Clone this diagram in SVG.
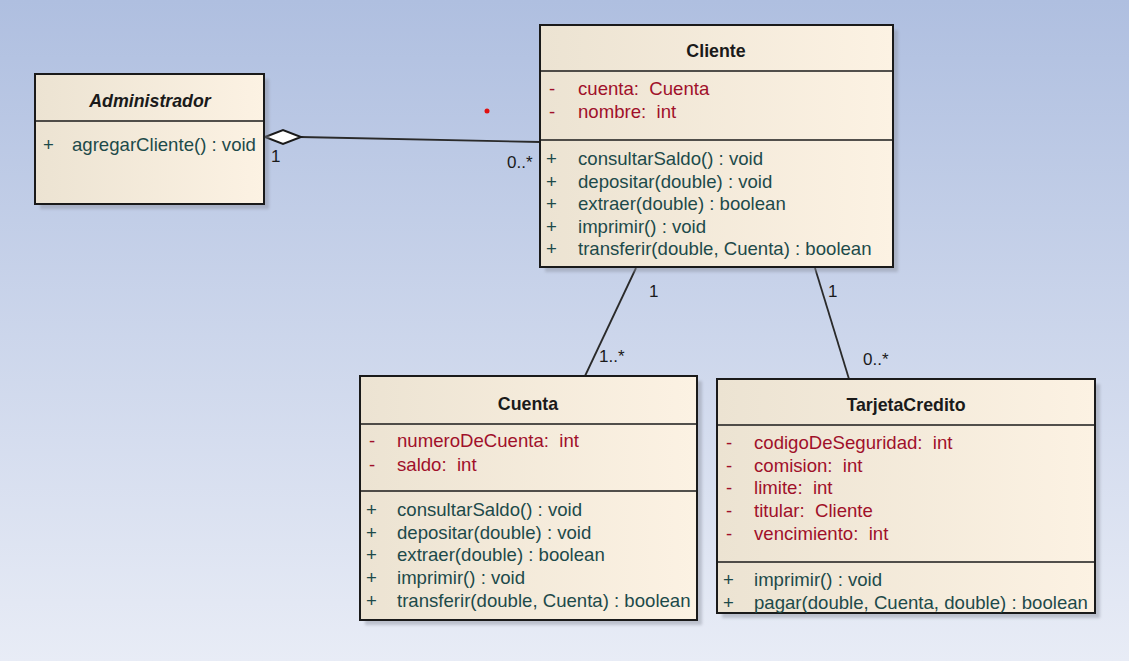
<svg xmlns="http://www.w3.org/2000/svg" width="1129" height="661" viewBox="0 0 1129 661">
<defs>
<linearGradient id="bg" x1="0" y1="0" x2="0" y2="1">
<stop offset="0" stop-color="#afbfe0"/>
<stop offset="1" stop-color="#e8ecf6"/>
</linearGradient>
<linearGradient id="box" x1="0" y1="0" x2="1" y2="0">
<stop offset="0" stop-color="#ece3d2"/>
<stop offset="1" stop-color="#fcf2e3"/>
</linearGradient>
<filter id="sh" x="-10%" y="-10%" width="130%" height="130%">
<feGaussianBlur stdDeviation="1.5"/>
</filter>
</defs>
<style>
.shadow{fill:#8a8f9c;opacity:0.45;filter:url(#sh)}
.frame{fill:url(#box);stroke:#1a1a1a;stroke-width:2}
.sep{stroke:#1a1a1a;stroke-width:1.5}
text{font-family:"Liberation Sans",Arial,sans-serif;font-size:18.6px;white-space:pre}
.title{font-weight:bold;text-anchor:middle;fill:#1a1a1a;font-size:17.8px}
.attr{fill:#a0102a}
.meth{fill:#1d4a4a}
.lbl{fill:#1a1a1a;font-size:17px}
.conn{stroke:#2a2a2a;stroke-width:1.8;fill:none}
</style>
<rect width="1129" height="661" fill="url(#bg)"/>

<g id="connectors">
<line class="conn" x1="300" y1="137" x2="540" y2="142"/>
<polygon points="265,137 283,130 301,137 283,144" fill="#ffffff" stroke="#1a1a1a" stroke-width="2"/>
<line class="conn" x1="636" y1="268" x2="585" y2="376"/>
<line class="conn" x1="815" y1="268" x2="849" y2="379"/>
<text class="lbl" x="271" y="162">1</text>
<text class="lbl" x="507" y="168">0..*</text>
<text class="lbl" x="649" y="297">1</text>
<text class="lbl" x="599" y="362">1..*</text>
<text class="lbl" x="828" y="297">1</text>
<text class="lbl" x="863" y="365">0..*</text>
</g>

<circle cx="487" cy="111" r="2.5" fill="#e01010"/>

<g id="Administrador">
<rect class="shadow" x="40" y="79" width="229" height="130"/>
<rect class="frame" x="35" y="74" width="229" height="130"/>
<line class="sep" x1="35" y1="121" x2="264" y2="121"/>
<text class="title" x="150" y="107" font-style="italic">Administrador</text>
<text class="meth" x="43" y="151">+</text>
<text class="meth" x="72" y="151">agregarCliente() : void</text>
</g>

<g id="Cliente">
<rect class="shadow" x="545" y="30" width="353" height="242"/>
<rect class="frame" x="540" y="25" width="353" height="242"/>
<line class="sep" x1="540" y1="71" x2="893" y2="71"/>
<line class="sep" x1="540" y1="140" x2="893" y2="140"/>
<text class="title" x="716" y="57">Cliente</text>
<text class="attr" x="549" y="95">-</text><text class="attr" x="578" y="95">cuenta:  Cuenta</text>
<text class="attr" x="549" y="118">-</text><text class="attr" x="578" y="118">nombre:  int</text>
<text class="meth" x="546" y="165">+</text><text class="meth" x="578" y="165">consultarSaldo() : void</text>
<text class="meth" x="546" y="188">+</text><text class="meth" x="578" y="188">depositar(double) : void</text>
<text class="meth" x="546" y="210">+</text><text class="meth" x="578" y="210">extraer(double) : boolean</text>
<text class="meth" x="546" y="233">+</text><text class="meth" x="578" y="233">imprimir() : void</text>
<text class="meth" x="546" y="255">+</text><text class="meth" x="578" y="255">transferir(double, Cuenta) : boolean</text>
</g>

<g id="Cuenta">
<rect class="shadow" x="365" y="381" width="337" height="244"/>
<rect class="frame" x="360" y="376" width="337" height="244"/>
<line class="sep" x1="360" y1="424" x2="697" y2="424"/>
<line class="sep" x1="360" y1="491" x2="697" y2="491"/>
<text class="title" x="528" y="410">Cuenta</text>
<text class="attr" x="369" y="447">-</text><text class="attr" x="397" y="447">numeroDeCuenta:  int</text>
<text class="attr" x="369" y="471">-</text><text class="attr" x="397" y="471">saldo:  int</text>
<text class="meth" x="366" y="516">+</text><text class="meth" x="397" y="516">consultarSaldo() : void</text>
<text class="meth" x="366" y="539">+</text><text class="meth" x="397" y="539">depositar(double) : void</text>
<text class="meth" x="366" y="561">+</text><text class="meth" x="397" y="561">extraer(double) : boolean</text>
<text class="meth" x="366" y="584">+</text><text class="meth" x="397" y="584">imprimir() : void</text>
<text class="meth" x="366" y="607">+</text><text class="meth" x="397" y="607">transferir(double, Cuenta) : boolean</text>
</g>

<g id="TarjetaCredito">
<rect class="shadow" x="722" y="384" width="378" height="234"/>
<rect class="frame" x="717" y="379" width="378" height="234"/>
<line class="sep" x1="717" y1="425" x2="1095" y2="425"/>
<line class="sep" x1="717" y1="562" x2="1095" y2="562"/>
<text class="title" x="906" y="411">TarjetaCredito</text>
<text class="attr" x="726" y="449">-</text><text class="attr" x="754" y="449">codigoDeSeguridad:  int</text>
<text class="attr" x="726" y="472">-</text><text class="attr" x="754" y="472">comision:  int</text>
<text class="attr" x="726" y="494">-</text><text class="attr" x="754" y="494">limite:  int</text>
<text class="attr" x="726" y="517">-</text><text class="attr" x="754" y="517">titular:  Cliente</text>
<text class="attr" x="726" y="540">-</text><text class="attr" x="754" y="540">vencimiento:  int</text>
<text class="meth" x="723" y="586">+</text><text class="meth" x="754" y="586">imprimir() : void</text>
<text class="meth" x="723" y="609">+</text><text class="meth" x="754" y="609">pagar(double, Cuenta, double) : boolean</text>
</g>
</svg>
